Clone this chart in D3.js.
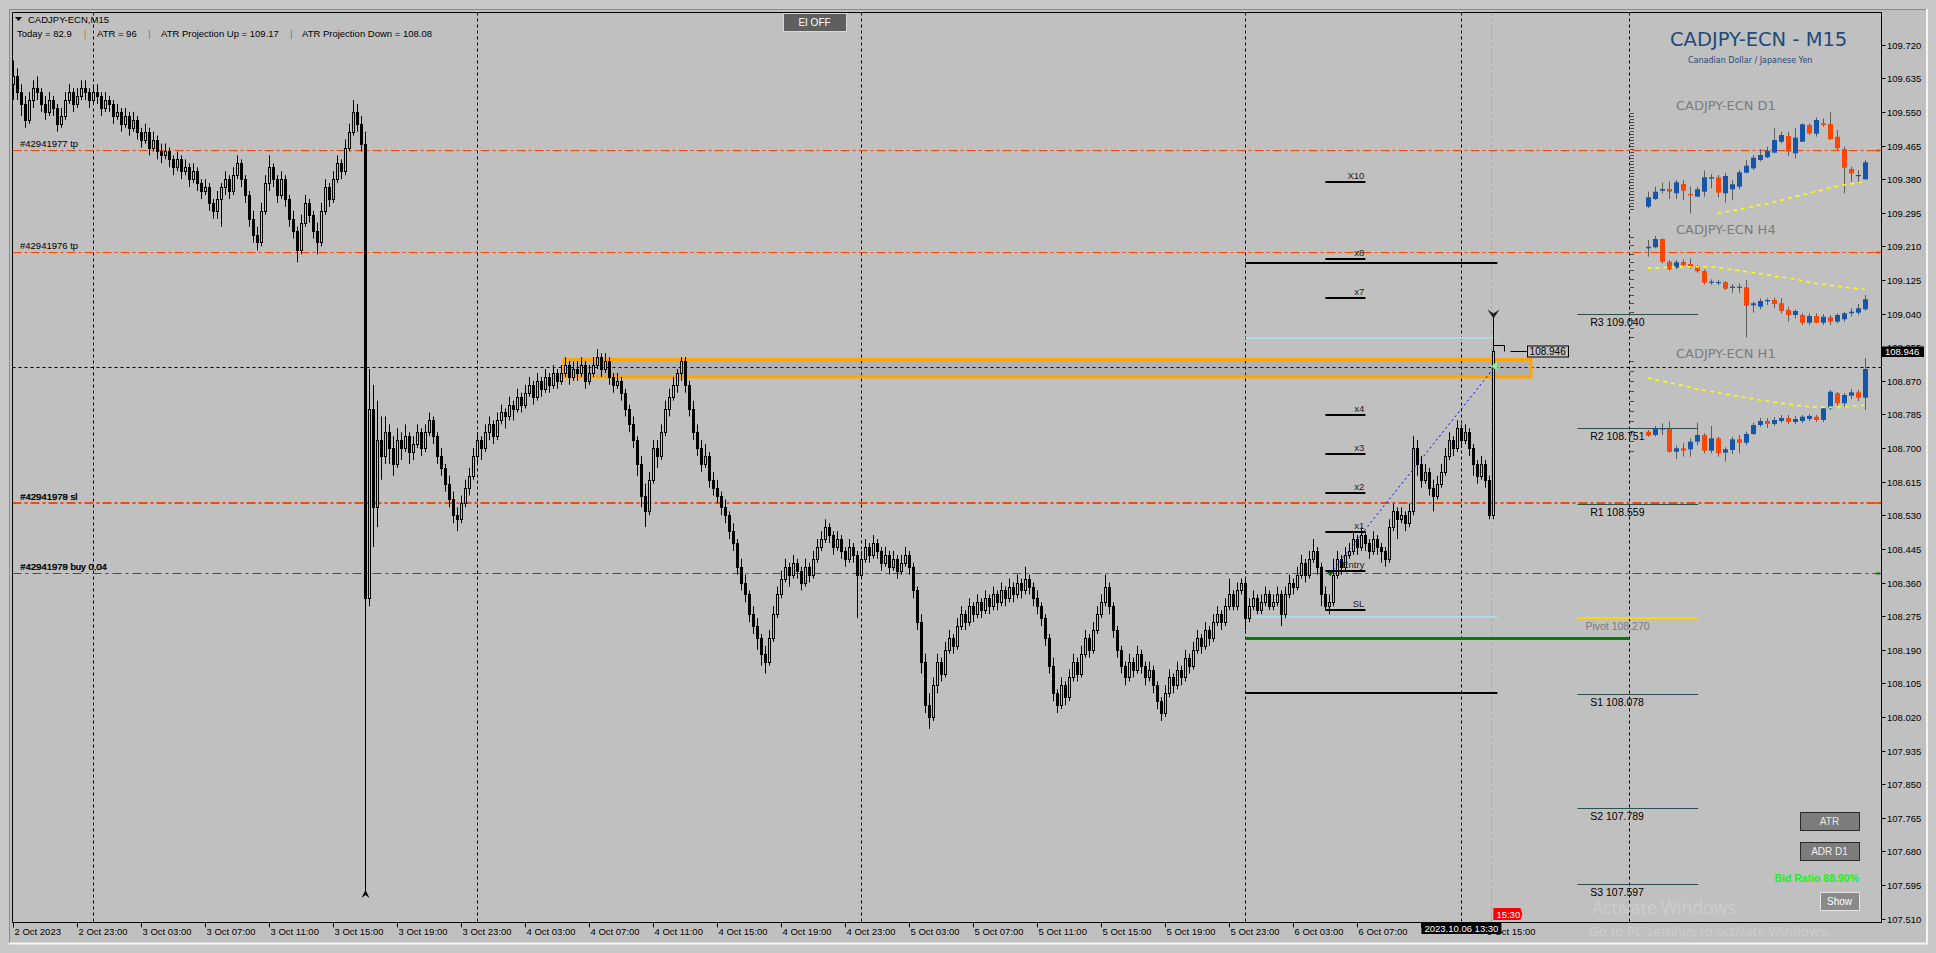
<!DOCTYPE html>
<html><head><meta charset="utf-8">
<script src="https://cdn.jsdelivr.net/npm/d3@7"></script>
<style>html,body{margin:0;padding:0;background:#c0c0c0;overflow:hidden}text{font-family:"Liberation Sans",Arial,sans-serif}</style>
</head><body><svg id="c" width="1936" height="953"></svg>
<script>
// ---------------- DATA: M15 bars [open, high, low, close] ----------------
const oct2Bars = [
[109.62,109.68,109.58,109.64],[109.64,109.66,109.58,109.60],[109.60,109.62,109.54,109.57],[109.57,109.59,109.51,109.53],
[109.53,109.60,109.52,109.58],[109.58,109.63,109.56,109.61],[109.61,109.64,109.58,109.60],[109.60,109.61,109.55,109.57],
[109.57,109.59,109.53,109.55],[109.55,109.60,109.54,109.58],[109.58,109.59,109.54,109.56],[109.56,109.57,109.50,109.52],
[109.52,109.56,109.51,109.54],[109.54,109.60,109.53,109.58],[109.58,109.62,109.57,109.60],[109.60,109.61,109.55,109.57],
[109.57,109.61,109.56,109.59],[109.59,109.63,109.58,109.61],[109.61,109.63,109.58,109.60],[109.60,109.61,109.56,109.58]];
const oct3Bars = [
[109.58,109.62,109.57,109.60],[109.60,109.62,109.57,109.59],[109.59,109.60,109.54,109.56],[109.56,109.60,109.55,109.58],
[109.58,109.59,109.55,109.57],[109.57,109.58,109.52,109.54],[109.54,109.57,109.53,109.55],[109.55,109.56,109.50,109.52],
[109.52,109.56,109.51,109.54],[109.54,109.55,109.49,109.51],[109.51,109.55,109.50,109.53],[109.53,109.54,109.48,109.50],
[109.50,109.51,109.46,109.48],[109.48,109.52,109.47,109.50],[109.50,109.51,109.44,109.46],[109.46,109.50,109.45,109.48],
[109.48,109.49,109.43,109.45],[109.45,109.47,109.42,109.44],[109.44,109.47,109.43,109.45],[109.45,109.46,109.41,109.43],
[109.43,109.44,109.39,109.41],[109.41,109.45,109.40,109.43],[109.43,109.44,109.38,109.40],[109.40,109.43,109.39,109.41],
[109.41,109.42,109.36,109.38],[109.38,109.42,109.37,109.40],[109.40,109.41,109.35,109.37],[109.37,109.38,109.33,109.35],
[109.35,109.38,109.34,109.36],[109.36,109.37,109.30,109.32],[109.32,109.33,109.28,109.30],[109.30,109.35,109.28,109.33],
[109.33,109.37,109.26,109.36],[109.36,109.40,109.34,109.38],[109.38,109.39,109.33,109.35],[109.35,109.41,109.34,109.39],
[109.39,109.44,109.38,109.42],[109.42,109.43,109.36,109.38],[109.38,109.39,109.32,109.34],[109.34,109.35,109.26,109.28],
[109.28,109.30,109.22,109.24],[109.24,109.26,109.20,109.22],[109.22,109.32,109.21,109.30],[109.30,109.39,109.29,109.37],
[109.37,109.44,109.35,109.41],[109.41,109.42,109.36,109.38],[109.38,109.39,109.32,109.34],[109.34,109.40,109.33,109.38],
[109.38,109.39,109.31,109.33],[109.33,109.34,109.26,109.28],[109.28,109.30,109.23,109.25],[109.25,109.26,109.17,109.20],
[109.20,109.29,109.19,109.27],[109.27,109.34,109.26,109.32],[109.32,109.33,109.27,109.29],[109.29,109.30,109.23,109.25],
[109.25,109.27,109.19,109.22],[109.22,109.32,109.21,109.30],[109.30,109.38,109.29,109.36],[109.36,109.37,109.31,109.33],
[109.33,109.40,109.32,109.38],[109.38,109.44,109.37,109.42],[109.42,109.43,109.38,109.40],[109.40,109.48,109.39,109.46],
[109.46,109.52,109.45,109.50],[109.50,109.58,109.49,109.55],[109.55,109.57,109.50,109.52],[109.52,109.54,109.45,109.47],
[109.47,109.50,107.57,108.32],[108.32,108.90,108.30,108.80],[108.80,108.86,108.45,108.55],[108.55,108.82,108.50,108.72],
[108.72,108.78,108.62,108.68],[108.68,108.78,108.66,108.74],[108.74,108.76,108.66,108.70],[108.70,108.73,108.63,108.66],
[108.66,108.75,108.65,108.72],[108.72,108.74,108.67,108.70],[108.70,108.76,108.69,108.73],[108.73,108.74,108.66,108.69],
[108.69,108.73,108.67,108.71],[108.71,108.76,108.70,108.74],[108.74,108.75,108.68,108.70],[108.70,108.76,108.69,108.74],
[108.74,108.79,108.73,108.77],[108.77,108.78,108.71,108.73],[108.73,108.74,108.66,108.68],[108.68,108.70,108.63,108.65],
[108.65,108.66,108.59,108.61],[108.61,108.63,108.55,108.57],[108.57,108.59,108.51,108.53],[108.53,108.55,108.49,108.52],
[108.52,108.58,108.51,108.56],[108.56,108.62,108.55,108.60],[108.60,108.65,108.58,108.63],[108.63,108.70,108.62,108.68]];
const oct4Bars = [
[108.68,108.74,108.66,108.72],[108.72,108.73,108.67,108.70],[108.70,108.76,108.69,108.74],[108.74,108.78,108.72,108.76],
[108.76,108.77,108.71,108.73],[108.73,108.79,108.72,108.77],[108.77,108.81,108.76,108.79],[108.79,108.80,108.75,108.78],
[108.78,108.83,108.77,108.81],[108.81,108.82,108.77,108.80],[108.80,108.85,108.79,108.83],[108.83,108.84,108.79,108.81],
[108.81,108.86,108.80,108.84],[108.84,108.88,108.83,108.86],[108.86,108.87,108.81,108.83],[108.83,108.89,108.82,108.87],
[108.87,108.88,108.83,108.85],[108.85,108.90,108.84,108.88],[108.88,108.89,108.84,108.86],[108.86,108.91,108.85,108.89],
[108.89,108.90,108.85,108.87],[108.87,108.91,108.86,108.89],[108.89,108.93,108.88,108.91],[108.91,108.92,108.86,108.88],
[108.88,108.92,108.87,108.90],[108.90,108.92,108.87,108.89],[108.89,108.93,108.88,108.91],[108.91,108.92,108.85,108.87],
[108.87,108.91,108.86,108.89],[108.89,108.93,108.88,108.91],[108.91,108.95,108.90,108.93],[108.93,108.94,108.88,108.90],
[108.90,108.94,108.89,108.92],[108.92,108.93,108.86,108.88],[108.88,108.89,108.84,108.86],[108.86,108.89,108.85,108.87],
[108.87,108.88,108.82,108.84],[108.84,108.85,108.78,108.80],[108.80,108.81,108.74,108.76],[108.76,108.78,108.70,108.72],
[108.72,108.73,108.63,108.66],[108.66,108.68,108.55,108.58],[108.58,108.61,108.50,108.54],[108.54,108.64,108.53,108.62],
[108.62,108.72,108.61,108.70],[108.70,108.72,108.65,108.68],[108.68,108.76,108.67,108.74],[108.74,108.82,108.73,108.80],
[108.80,108.85,108.78,108.83],[108.83,108.88,108.82,108.86],[108.86,108.90,108.84,108.89],[108.89,108.93,108.87,108.92],
[108.92,108.93,108.84,108.86],[108.86,108.87,108.78,108.80],[108.80,108.82,108.72,108.74],[108.74,108.76,108.68,108.70],
[108.70,108.72,108.64,108.66],[108.66,108.71,108.65,108.68],[108.68,108.69,108.60,108.62],[108.62,108.64,108.58,108.60],
[108.60,108.62,108.56,108.58],[108.58,108.59,108.53,108.55],[108.55,108.57,108.51,108.53],[108.53,108.54,108.47,108.49],
[108.49,108.51,108.44,108.46],[108.46,108.47,108.38,108.40],[108.40,108.42,108.34,108.36],[108.36,108.38,108.31,108.33],
[108.33,108.34,108.26,108.28],[108.28,108.30,108.23,108.25],[108.25,108.27,108.19,108.22],[108.22,108.23,108.15,108.18],
[108.18,108.20,108.13,108.16],[108.16,108.24,108.15,108.22],[108.22,108.30,108.21,108.28],[108.28,108.35,108.27,108.33],
[108.33,108.39,108.32,108.37],[108.37,108.42,108.36,108.40],[108.40,108.41,108.35,108.38],[108.38,108.43,108.37,108.41],
[108.41,108.42,108.37,108.39],[108.39,108.40,108.34,108.36],[108.36,108.42,108.35,108.40],[108.40,108.41,108.36,108.38],
[108.38,108.44,108.37,108.42],[108.42,108.47,108.41,108.45],[108.45,108.49,108.44,108.47],[108.47,108.52,108.46,108.50],
[108.50,108.51,108.46,108.48],[108.48,108.49,108.43,108.45],[108.45,108.49,108.44,108.47],[108.47,108.48,108.42,108.44],
[108.44,108.45,108.40,108.42],[108.42,108.47,108.41,108.45],[108.45,108.46,108.41,108.43],[108.43,108.44,108.27,108.38]];
const oct5Bars = [
[108.38,108.44,108.37,108.42],[108.42,108.47,108.41,108.45],[108.45,108.46,108.41,108.43],[108.43,108.48,108.42,108.46],
[108.46,108.47,108.42,108.44],[108.44,108.45,108.39,108.41],[108.41,108.45,108.40,108.43],[108.43,108.44,108.38,108.40],
[108.40,108.44,108.39,108.42],[108.42,108.43,108.37,108.39],[108.39,108.43,108.38,108.41],[108.41,108.45,108.40,108.43],
[108.43,108.44,108.38,108.40],[108.40,108.41,108.32,108.34],[108.34,108.35,108.24,108.26],[108.26,108.28,108.13,108.16],
[108.16,108.18,108.03,108.05],[108.05,108.08,107.99,108.02],[108.02,108.12,108.01,108.10],[108.10,108.18,108.08,108.16],
[108.16,108.17,108.11,108.13],[108.13,108.21,108.12,108.19],[108.19,108.24,108.18,108.22],[108.22,108.23,108.18,108.20],
[108.20,108.27,108.19,108.25],[108.25,108.30,108.24,108.28],[108.28,108.29,108.24,108.26],[108.26,108.32,108.25,108.30],
[108.30,108.31,108.26,108.28],[108.28,108.33,108.27,108.31],[108.31,108.32,108.27,108.29],[108.29,108.34,108.28,108.32],
[108.32,108.33,108.28,108.30],[108.30,108.35,108.29,108.33],[108.33,108.34,108.29,108.31],[108.31,108.36,108.30,108.34],
[108.34,108.35,108.30,108.32],[108.32,108.37,108.31,108.35],[108.35,108.36,108.31,108.33],[108.33,108.38,108.32,108.36],
[108.36,108.37,108.32,108.34],[108.34,108.40,108.33,108.37],[108.37,108.38,108.33,108.35],[108.35,108.36,108.30,108.32],
[108.32,108.34,108.28,108.30],[108.30,108.31,108.25,108.27],[108.27,108.28,108.20,108.22],[108.22,108.23,108.13,108.15],
[108.15,108.17,108.06,108.08],[108.08,108.09,108.03,108.05],[108.05,108.12,108.04,108.10],[108.10,108.11,108.05,108.07],
[108.07,108.14,108.06,108.12],[108.12,108.18,108.11,108.16],[108.16,108.17,108.11,108.13],[108.13,108.20,108.12,108.18],
[108.18,108.24,108.17,108.22],[108.22,108.23,108.17,108.19],[108.19,108.26,108.18,108.24],[108.24,108.30,108.23,108.28],
[108.28,108.33,108.27,108.31],[108.31,108.38,108.30,108.35],[108.35,108.36,108.28,108.30],[108.30,108.31,108.22,108.24],
[108.24,108.25,108.17,108.19],[108.19,108.20,108.13,108.15],[108.15,108.16,108.10,108.12],[108.12,108.18,108.11,108.16],
[108.16,108.17,108.12,108.14],[108.14,108.20,108.13,108.18],[108.18,108.19,108.13,108.15],[108.15,108.16,108.10,108.12],
[108.12,108.16,108.11,108.14],[108.14,108.15,108.08,108.10],[108.10,108.11,108.04,108.06],[108.06,108.07,108.01,108.03],
[108.03,108.10,108.02,108.08],[108.08,108.14,108.07,108.12],[108.12,108.13,108.08,108.10],[108.10,108.16,108.09,108.14],
[108.14,108.15,108.10,108.12],[108.12,108.19,108.11,108.17],[108.17,108.18,108.13,108.15],[108.15,108.21,108.14,108.19],
[108.19,108.24,108.18,108.22],[108.22,108.23,108.18,108.20],[108.20,108.26,108.19,108.24],[108.24,108.25,108.20,108.22],
[108.22,108.28,108.21,108.26],[108.26,108.30,108.25,108.28],[108.28,108.29,108.24,108.26],[108.26,108.32,108.25,108.30],
[108.30,108.37,108.29,108.33],[108.33,108.34,108.29,108.30],[108.30,108.36,108.29,108.34],[108.34,108.37,108.33,108.36]];
const oct6Bars = [
[108.36,108.37,108.24,108.27],[108.27,108.32,108.26,108.30],[108.30,108.34,108.29,108.32],[108.32,108.33,108.28,108.29],
[108.29,108.33,108.28,108.31],[108.31,108.35,108.30,108.33],[108.33,108.34,108.29,108.30],[108.30,108.33,108.29,108.31],
[108.31,108.35,108.30,108.33],[108.33,108.34,108.25,108.28],[108.28,108.35,108.27,108.33],[108.33,108.38,108.32,108.36],
[108.36,108.37,108.33,108.35],[108.35,108.40,108.34,108.38],[108.38,108.43,108.37,108.41],[108.41,108.42,108.36,108.38],
[108.38,108.44,108.37,108.42],[108.42,108.47,108.41,108.44],[108.44,108.45,108.38,108.40],[108.40,108.41,108.30,108.33],
[108.33,108.35,108.29,108.30],[108.30,108.33,108.28,108.31],[108.31,108.42,108.30,108.38],[108.38,108.44,108.37,108.42],
[108.42,108.43,108.38,108.40],[108.40,108.45,108.39,108.43],[108.43,108.46,108.42,108.44],[108.44,108.49,108.43,108.47],
[108.47,108.48,108.43,108.45],[108.45,108.50,108.44,108.48],[108.48,108.49,108.44,108.46],[108.46,108.47,108.42,108.44],
[108.44,108.49,108.43,108.47],[108.47,108.48,108.43,108.45],[108.45,108.46,108.41,108.44],[108.44,108.45,108.40,108.42],
[108.42,108.52,108.41,108.50],[108.50,108.56,108.49,108.54],[108.54,108.55,108.47,108.52],[108.52,108.55,108.51,108.53],
[108.53,108.54,108.49,108.51],[108.51,108.56,108.50,108.54],[108.54,108.73,108.53,108.70],[108.70,108.72,108.63,108.66],
[108.66,108.68,108.60,108.62],[108.62,108.66,108.61,108.64],[108.64,108.65,108.58,108.60],[108.60,108.62,108.54,108.58],
[108.58,108.63,108.57,108.61],[108.61,108.66,108.60,108.64],[108.64,108.70,108.63,108.68],[108.68,108.74,108.67,108.72],
[108.72,108.73,108.68,108.70],[108.70,108.77,108.69,108.75],[108.75,108.76,108.70,108.72],[108.72,108.76,108.71,108.74],
[108.74,108.75,108.68,108.70],[108.70,108.71,108.63,108.66],[108.66,108.67,108.61,108.63],[108.63,108.68,108.62,108.66],
[108.66,108.67,108.60,108.62],[108.62,108.63,108.52,108.53],[108.53,109.03,108.52,108.946]];

const priceTicks = ["109.720","109.635","109.550","109.465","109.380","109.295","109.210","109.125","109.040","108.955","108.870","108.785","108.700","108.615","108.530","108.445","108.360","108.275","108.190","108.105","108.020","107.935","107.850","107.765","107.680","107.595","107.510"];
const timeLabels = ["2 Oct 2023","2 Oct 23:00","3 Oct 03:00","3 Oct 07:00","3 Oct 11:00","3 Oct 15:00","3 Oct 19:00","3 Oct 23:00","4 Oct 03:00","4 Oct 07:00","4 Oct 11:00","4 Oct 15:00","4 Oct 19:00","4 Oct 23:00","5 Oct 03:00","5 Oct 07:00","5 Oct 11:00","5 Oct 15:00","5 Oct 19:00","5 Oct 23:00","6 Oct 03:00","6 Oct 07:00","","6 Oct 15:00"];
const timeBars = [0,16,32,48,64,80,96,112,128,144,160,176,192,208,224,240,256,272,288,304,320,336,352,368];
const daySeparators = [20,116,212,308,404];

const tradePrices = [109.453,109.195,108.560,108.383];
const tradeLabels = [["#42941977 tp"],["#42941976 tp"],["#42941978 sl","#42941979 sl"],["#42941978 buy 0.04","#42941979 buy 0,04"]];

const levelNames = ["X10","x8","x7","x4","x3","x2","x1","Entry","SL"];
const levelPrices = [109.374,109.177,109.079,108.784,108.686,108.587,108.489,108.390,108.291];
const projPrices = [109.169,108.978,108.274,108.081];
const greenLevel = 108.219;
const pivotNames = ["R3","R2","R1","Pivot","S1","S2","S3"];
const pivotValues = [109.040,108.751,108.559,108.270,108.078,107.789,107.597];
const zoneTop = 108.924, zoneBottom = 108.880;
const trendFrom = [329.2,108.383], trendTo = [370.4,108.906];
const crossBar = 362, crossPrice = 108.904;
const bidPrice = "108.946";

// mini charts: [open, high, low, close] in relative panel units (0..100)
const d1 = [[8.3,23.3,6.7,17.7],[16,28.3,15,23.3],[24.3,32.3,21.7,26],[26,33.3,16,23.3],[21.7,35,16,32.7],[31,35,15,24.3],[21,28.3,1.7,19.7],[18.3,28.3,17.7,25.7],[23.3,44.3,18.3,37.7],[36.3,41,26.7,37.7],[37.7,40,17.7,22.3],[21.7,42.3,12.7,39],[25.7,35,15,30.7],[28.3,45,25.7,42.7],[42.3,55,41.7,49.3],[46.7,60,45,57.3],[55,66,53.7,60],[57.7,68.3,56.7,64.3],[62.3,86.7,61.7,75],[73.3,83.3,71.7,80],[79,83.3,59,63.3],[61.7,86.7,56.7,77.3],[73.3,91.7,73.3,90.7],[90,91.7,80,81.7],[81.3,97.7,78.3,95],[91.7,96.7,88.3,90],[91,102.7,75,75.7],[78.3,85,65,66.7],[66,68.3,21.7,47.3],[46,48.3,33.3,41.7],[39,45,31,40],[35.7,55,35,52.7]];
const d1MA = [null,null,null,null,null,null,null,null,null,null,1.5,3,4,5.5,7,8.5,10,11,13,14.5,16.5,18.5,20,21.5,23.5,25,27,28.5,30,31,32,33.3];
const h4 = [[91.7,100,83.3,93.3],[92.7,104,91.7,101],[101,101.7,76.7,78.3],[78.3,80,69.3,70.7],[72.3,80,70.7,77.7],[78,80.7,73.3,75],[76,81.7,71,73.3],[74,75,67.3,69],[69,70.7,55.7,57.3],[57.3,60.7,55,58.3],[57.3,60,55,58],[57.7,59,50,51.3],[52,56,47.3,53.3],[52.3,56.7,47.3,53.3],[52.7,60,2.7,34.3],[34.7,38.3,27.3,36.7],[33.3,41.7,30.7,39],[38.7,41.7,35,40],[40,42.3,31.7,36],[36.7,41.7,26.7,29],[30,33.3,18.3,25],[25,30.7,21.7,29],[25,26.7,15,17.3],[17.3,26.7,15,24],[24,26.7,16.7,17.3],[17.3,26,15,23.3],[22.7,25,15,18.3],[18.3,26.7,16.7,25],[20.7,28.3,18.3,26.7],[26.7,31.7,23.3,28.3],[27.3,36,25,31.7],[30.7,45,29.3,40.7]];
const h4MA = [71.7,72,72.3,72.6,72.9,73.1,73.3,73.3,73.3,73,72.5,71.5,70.5,69.5,68.5,67.5,66.5,65.5,64,63,62,61,59.5,58,56.7,56,55,54,53,52,51.5,50.7];
const h1 = [[33.3,35,28.3,29.3],[30,39,28.3,36.7],[35.7,41.7,30,36.7],[36,43.3,12.3,13.3],[13.3,19.3,6,16.7],[16.7,21.7,8.3,14.3],[15.7,26.7,8.3,23.3],[23.3,42.3,20,30],[30,31.7,11.7,14.3],[14.3,39,11.7,26.7],[26.7,28.3,8.3,11.7],[12.3,17.7,3.3,15.7],[15,28.3,11,25.7],[25.7,30,11.7,22.3],[22.3,33.3,20,31],[31,42.3,30,40],[40,47,38,44],[44,47,37,41],[41,48,39,45],[44,50,42,47],[47,50,41,43],[43,49,41,46],[44,50,42,48.3],[46,51,44,49],[48.3,50,43,45],[45,58,43,56.7],[56.7,75,55,73.3],[71.7,73,58,61.7],[61.7,72,58,70],[69.3,76,66,72.7],[72.7,75,64,67.3],[67.3,107,55,96]];
const h1MA = [87,85.5,84,82.5,81,79.5,78,76,74.8,73.5,72.3,71,70,68.7,67.5,66.3,65,64,63,62,61,60,59,58.3,58,57.8,57.8,58,58.3,58.7,59.3,60];

// ---------------- SETUP ----------------
const BG = "#c0c0c0";
const svg = d3.select("#c");
const x = d3.scaleLinear().domain([0, 371]).range([13.4, 1497.4]);
const y = d3.scaleLinear().domain([107.510, 109.720]).range([918.7, 44.7]);
const px = v => Math.round(v) + 0.5;
const PL = 12.5, PT = 12.5, PR = 1881.5, PB = 922.5;

svg.append("rect").attr("width", 1936).attr("height", 953).attr("fill", BG);
svg.append("rect").attr("width", 1936).attr("height", 9).attr("fill", "#c8c8c8");
svg.append("rect").attr("width", 9).attr("height", 953).attr("fill", "#c8c8c8");
svg.append("line").attr("x1", 9.5).attr("x2", 1927).attr("y1", 9.5).attr("y2", 9.5).attr("stroke", "#8c8c8c");
svg.append("line").attr("x1", 9.5).attr("x2", 9.5).attr("y1", 9.5).attr("y2", 943).attr("stroke", "#8c8c8c");
svg.append("rect").attr("x", 1928).attr("width", 8).attr("height", 953).attr("fill", "#c8c8c8");
svg.append("rect").attr("y", 944).attr("width", 1936).attr("height", 9).attr("fill", "#c8c8c8");
svg.append("line").attr("x1", 1927).attr("x2", 1927).attr("y1", 9).attr("y2", 944).attr("stroke", "#f4f4f4").attr("stroke-width", 2);
svg.append("line").attr("x1", 9).attr("x2", 1928).attr("y1", 943.5).attr("y2", 943.5).attr("stroke", "#f4f4f4").attr("stroke-width", 2);

svg.append("defs").append("clipPath").attr("id", "plot").append("rect")
  .attr("x", PL).attr("y", PT).attr("width", PR - PL).attr("height", PB - PT);
const plot = svg.append("g").attr("clip-path", "url(#plot)");

daySeparators.forEach(b => plot.append("line").attr("x1", px(x(b))).attr("x2", px(x(b)))
  .attr("y1", PT).attr("y2", PB).attr("stroke", "#000").attr("stroke-dasharray", "3,3"));
plot.append("line").attr("x1", px(x(crossBar))).attr("x2", px(x(crossBar))).attr("y1", PT).attr("y2", PB)
  .attr("stroke", "#000").attr("stroke-dasharray", "3,3");
plot.append("line").attr("x1", PL).attr("x2", PR).attr("y1", px(y(crossPrice))).attr("y2", px(y(crossPrice)))
  .attr("stroke", "#000").attr("stroke-dasharray", "3,3");
plot.append("line").attr("x1", px(x(369.5))).attr("x2", px(x(369.5))).attr("y1", PT).attr("y2", PB)
  .attr("stroke", "#a4a4a4").attr("stroke-dasharray", "3,3");

const tradeStyle = [
  {c: "#ff4500", w: 1, d: "9,3,3,3"}, {c: "#ff4500", w: 1, d: "9,3,3,3"},
  {c: "#ff4500", w: 2, d: "9,3,3,3"}, {c: "#008000", w: 1, d: "9,4,3,4"}];
tradePrices.forEach((p, k) => {
  const yy = k === 2 ? Math.round(y(p)) : px(y(p));
  plot.append("line").attr("x1", PL).attr("x2", PR).attr("y1", yy).attr("y2", yy)
    .attr("stroke", tradeStyle[k].c).attr("stroke-width", tradeStyle[k].w).attr("stroke-dasharray", tradeStyle[k].d);
  tradeLabels[k].forEach((t, j) => plot.append("text").attr("x", 20 + j * 0.6).attr("y", y(p) - 3)
    .attr("font-size", "9.5px").attr("fill", "#000").text(t));
  svg.append("line").attr("x1", 1876).attr("x2", 1880).attr("y1", yy).attr("y2", yy)
    .attr("stroke", tradeStyle[k].c).attr("stroke-width", 2);
});

plot.append("rect").attr("x", x(137.6)).attr("y", y(zoneTop)).attr("width", x(379.4) - x(137.6))
  .attr("height", y(zoneBottom) - y(zoneTop)).attr("fill", "rgba(110,110,110,0.18)")
  .attr("stroke", "#ffa500").attr("stroke-width", 3);

const projStyle = [{c: "#000", w: 2}, {c: "#add8e6", w: 2}, {c: "#add8e6", w: 2}, {c: "#000", w: 2}];
projPrices.forEach((p, k) => plot.append("line").attr("x1", x(308)).attr("x2", x(371))
  .attr("y1", Math.round(y(p))).attr("y2", Math.round(y(p))).attr("stroke", projStyle[k].c).attr("stroke-width", projStyle[k].w));
plot.append("line").attr("x1", x(308)).attr("x2", x(404)).attr("y1", px(y(greenLevel))).attr("y2", px(y(greenLevel)))
  .attr("stroke", "#008000").attr("stroke-width", 3);

// candles
const bars = [].concat(oct2Bars, oct3Bars, oct4Bars, oct5Bars, oct6Bars)
  .map((d, i) => ({i, o: d[0], h: d[1], l: d[2], c: d[3]}));
const cg = plot.append("g");
bars.forEach(b => {
  const cx = px(x(b.i));
  cg.append("line").attr("x1", cx).attr("x2", cx).attr("y1", y(b.h)).attr("y2", y(b.l)).attr("stroke", "#000");
  const t = Math.round(y(Math.max(b.o, b.c))) + 0.5, bt = Math.round(y(Math.min(b.o, b.c))) + 0.5;
  cg.append("rect").attr("x", cx - 1).attr("width", 2).attr("y", t).attr("height", Math.max(0.01, bt - t))
    .attr("fill", b.c >= b.o ? BG : "#000").attr("stroke", "#000");
});
const sb = bars[88];
plot.append("path").attr("d", `M${px(x(88)) - 4},${y(sb.l) + 3} L${px(x(88))},${y(sb.l) - 5} L${px(x(88)) + 4},${y(sb.l) + 3} L${px(x(88))},${y(sb.l)} Z`).attr("fill", "#000");

plot.append("line").attr("x1", x(trendFrom[0])).attr("y1", y(trendFrom[1])).attr("x2", x(trendTo[0])).attr("y2", y(trendTo[1]))
  .attr("stroke", "#0000ff").attr("stroke-dasharray", "2,3");
plot.append("path").attr("d", `M${x(trendFrom[0]) - 4},${y(trendFrom[1]) - 3} L${x(trendFrom[0]) + 4},${y(trendFrom[1]) - 3} L${x(trendFrom[0])},${y(trendFrom[1]) + 3} Z`).attr("fill", "#006400");
plot.append("path").attr("d", `M${x(trendTo[0]) + 2},${y(trendTo[1]) - 5} L${x(trendTo[0]) + 2},${y(trendTo[1]) + 4} L${x(trendTo[0]) - 4},${y(trendTo[1])} Z`).attr("fill", "#90ee90");
const lb = bars[370];
plot.append("path").attr("d", `M${px(x(370)) - 6},${y(lb.h) - 8} L${px(x(370))},${y(lb.h) + 1} L${px(x(370)) + 6},${y(lb.h) - 8} L${px(x(370))},${y(lb.h) - 4} Z`).attr("fill", "#1a1a2a");

levelPrices.forEach((p, k) => {
  plot.append("line").attr("x1", x(328)).attr("x2", x(338)).attr("y1", Math.round(y(p))).attr("y2", Math.round(y(p)))
    .attr("stroke", "#000").attr("stroke-width", 2);
  plot.append("text").attr("x", x(338) - 1).attr("y", y(p) - 3).attr("text-anchor", "end")
    .attr("font-size", "9.5px").attr("fill", "#222").text(levelNames[k]);
});

const yb = y(+bidPrice);
plot.append("path").attr("d", `M${px(x(370))},${px(yb) - 6} H${px(x(370)) + 11} M${px(x(370)) + 11},${px(yb) - 6} V${px(yb)} M${px(x(370)) + 17},${px(yb)} H${x(378.3)}`)
  .attr("stroke", "#000").attr("fill", "none");
plot.append("rect").attr("x", px(x(378.3))).attr("y", px(yb) - 5.5).attr("width", 41).attr("height", 11)
  .attr("fill", BG).attr("stroke", "#000");
plot.append("text").attr("x", x(378.3) + 3).attr("y", yb + 4).attr("font-size", "10px").attr("fill", "#000").text(bidPrice);

pivotValues.forEach((p, k) => {
  const isP = pivotNames[k] === "Pivot";
  plot.append("line").attr("x1", x(391)).attr("x2", x(421.2)).attr("y1", isP ? Math.round(y(p)) : px(y(p))).attr("y2", isP ? Math.round(y(p)) : px(y(p)))
    .attr("stroke", isP ? "#ffd700" : "#2f4f4f").attr("stroke-width", isP ? 2 : 1);
  plot.append("text").attr("x", isP ? x(393) : x(394.2)).attr("y", y(p) + 12).attr("font-size", "10.5px")
    .attr("fill", isP ? "#7a7a7a" : "#000").text(pivotNames[k] + " " + d3.format(".3f")(p));
});

const xm = d3.scaleLinear().domain([0, 31]).range([1647.5, 1864.5]);
function mini(data, ma, bottom) {
  const ys = d3.scaleLinear().domain([0, 100]).range([bottom, bottom - 100]);
  const g = plot.append("g");
  data.forEach((d, k) => {
    const cx = Math.round(xm(k)) + 0.5;
    g.append("line").attr("x1", cx).attr("x2", cx).attr("y1", ys(d[1])).attr("y2", ys(d[2])).attr("stroke", "#5e5e5e");
    const t = ys(Math.max(d[0], d[3])), b = ys(Math.min(d[0], d[3]));
    g.append("rect").attr("x", cx - 2.5).attr("width", 5).attr("y", t).attr("height", Math.max(1.2, b - t))
      .attr("fill", d[3] >= d[0] ? "#1656a8" : "#ff4500");
  });
  g.append("path").datum(ma).attr("d", d3.line().defined(v => v !== null).x((v, k) => xm(k)).y(v => ys(v)))
    .attr("fill", "none").attr("stroke", "#ffff00").attr("stroke-width", 1.5).attr("stroke-dasharray", "4,4");
}
mini(d1, d1MA, 215);
mini(h4, h4MA, 340);
mini(h1, h1MA, 465);
[[113, 212, 3], [237, 337, 8.3], [361, 460, 10]].forEach(([a, b, s]) => {
  d3.range(a, b, s).forEach(v => plot.append("line").attr("x1", 1630).attr("x2", 1634)
    .attr("y1", Math.round(v) + 0.5).attr("y2", Math.round(v) + 0.5).attr("stroke", "#4a4a4a"));
});
const titles = [["CADJPY-ECN D1", 110], ["CADJPY-ECN H4", 234], ["CADJPY-ECN H1", 358]];
titles.forEach(([t, yy]) => svg.append("text").attr("x", 1676).attr("y", yy)
  .style("font-family", "'DejaVu Sans'").attr("font-size", "13px").attr("fill", "#7c7c7c").text(t));
svg.append("text").attr("x", 1670).attr("y", 46).style("font-family", "'DejaVu Sans'").attr("font-size", "19.5px")
  .attr("fill", "#1f4a7c").text("CADJPY-ECN - M15");
svg.append("text").attr("x", 1688).attr("y", 63).style("font-family", "'DejaVu Sans'").attr("font-size", "8px")
  .attr("fill", "#1f4a7c").text("Canadian Dollar / Japanese Yen");

svg.append("line").attr("x1", PL).attr("x2", PR).attr("y1", PT).attr("y2", PT).attr("stroke", "#000");
svg.append("line").attr("x1", PL).attr("x2", PL).attr("y1", PT).attr("y2", PB).attr("stroke", "#000");
svg.append("line").attr("x1", PR).attr("x2", PR).attr("y1", PT).attr("y2", PB).attr("stroke", "#000");
svg.append("line").attr("x1", PL).attr("x2", PR).attr("y1", PB).attr("y2", PB).attr("stroke", "#000");
priceTicks.forEach(t => {
  const yy = px(y(+t));
  svg.append("line").attr("x1", PR).attr("x2", PR + 4).attr("y1", yy).attr("y2", yy).attr("stroke", "#000");
  svg.append("text").attr("x", 1887).attr("y", yy + 3.5).attr("font-size", "9.5px").attr("fill", "#000").text(t);
});
timeLabels.forEach((t, k) => {
  const xx = px(x(timeBars[k]));
  svg.append("line").attr("x1", xx).attr("x2", xx).attr("y1", PB).attr("y2", PB + 5).attr("stroke", "#000");
  if (t) svg.append("text").attr("x", xx + 1).attr("y", 935).attr("font-size", "9.5px").attr("fill", "#000").text(t);
});
svg.append("rect").attr("x", 1882).attr("y", px(yb) - 5).attr("width", 42).attr("height", 10.5).attr("fill", "#000");
svg.append("text").attr("x", 1885).attr("y", yb + 3.8).attr("font-size", "9.5px").attr("fill", "#fff").text(bidPrice);
svg.append("rect").attr("x", x(crossBar) - 40).attr("y", 923).attr("width", 80).attr("height", 11).attr("fill", "#000");
svg.append("text").attr("x", x(crossBar)).attr("y", 932).attr("text-anchor", "middle").attr("font-size", "9.5px").attr("fill", "#fff").text("2023.10.06 13:30");
svg.append("path").attr("d", `M${x(370)},908 H${x(370) + 27} l2,6 l-2,6 H${x(370)} Z`).attr("fill", "#ff0000");
svg.append("text").attr("x", x(370) + 3).attr("y", 918).attr("font-size", "9.5px").attr("fill", "#fff").text("15:30");

svg.append("path").attr("d", "M15,17 L22,17 L18.5,21 Z").attr("fill", "#000");
svg.append("text").attr("x", 28).attr("y", 23).attr("font-size", "9.5px").attr("fill", "#000").text("CADJPY-ECN,M15");
const headerParts = [["Today = 82.9", 17, "#000"], ["|", 84, "#d2691e"], ["ATR = 96", 97, "#000"], ["|", 148, "#4682b4"],
  ["ATR Projection Up = 109.17", 161, "#000"], ["|", 290, "#4682b4"], ["ATR Projection Down = 108.08", 302, "#000"]];
headerParts.forEach(([t, xx, c]) => svg.append("text").attr("x", xx).attr("y", 36.5).attr("font-size", "9.5px").attr("fill", c).text(t));

function button(x0, y0, w, h, label, fill, stroke, color) {
  svg.append("rect").attr("x", x0 + 0.5).attr("y", y0 + 0.5).attr("width", w).attr("height", h).attr("fill", fill).attr("stroke", stroke);
  svg.append("text").attr("x", x0 + w / 2).attr("y", y0 + h / 2 + 4).attr("text-anchor", "middle").attr("font-size", "10px").attr("fill", color).text(label);
}
button(783, 13, 63, 18, "EI OFF", "#5f5f5f", "#d8d8d8", "#fff");
button(1800, 812, 59, 18, "ATR", "#7c7c7c", "#2a2a2a", "#e8e8e8");
button(1800, 842, 59, 18, "ADR D1", "#7c7c7c", "#2a2a2a", "#f0f0f0");
button(1820, 892, 39, 18, "Show", "#8a8a8a", "#e4e4e4", "#fff");
svg.append("text").attr("x", 1859).attr("y", 882).attr("text-anchor", "end").attr("font-size", "10.5px")
  .attr("font-weight", "bold").attr("fill", "#22ee22").text("Bid Ratio 88.90%");

svg.append("text").attr("x", 1592).attr("y", 914).style("font-family", "'Open Sans'").attr("font-size", "17.5px").attr("fill", "#cdcdcd").text("Activate Windows");
svg.append("text").attr("x", 1589).attr("y", 936).style("font-family", "'Open Sans'").attr("font-size", "13.5px").attr("fill", "#cdcdcd").text("Go to PC settings to activate Windows.");
</script></body></html>
